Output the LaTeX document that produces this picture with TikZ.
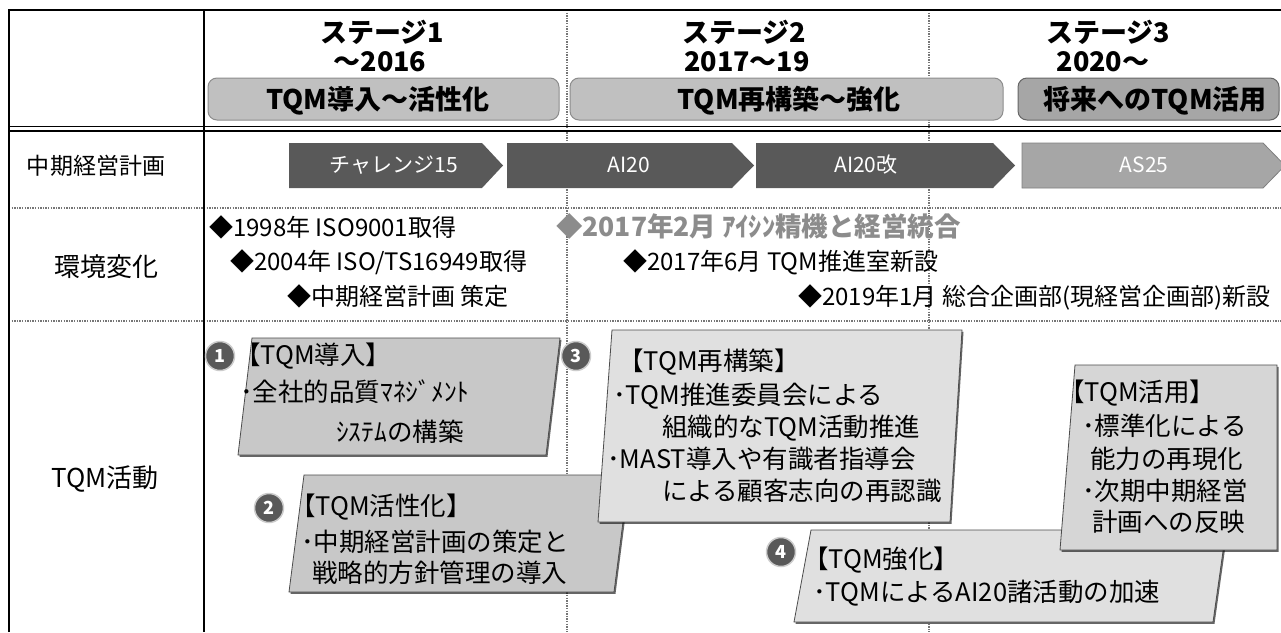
\documentclass[tikz,border=0pt]{standalone}
\usepackage{fontspec}
\setmainfont{Noto Sans CJK JP}
\usetikzlibrary{shadows}
\definecolor{arrowdark}{HTML}{595959}
\definecolor{arrowlight}{HTML}{A6A6A6}
\definecolor{hdrlight}{HTML}{C0C0C0}
\definecolor{hdrdark}{HTML}{A6A6A6}
\definecolor{boxmid}{HTML}{C8C8C8}
\definecolor{boxlight}{HTML}{E0E0E0}
\definecolor{boxuse}{HTML}{D6D6D6}
\definecolor{dotgray}{HTML}{767676}
\definecolor{evgray}{HTML}{8C8C8C}
\newcommand{\fsz}[1]{\fontsize{#1}{#1}\selectfont}
\tikzset{
  txt/.style={inner sep=0pt, anchor=west, font={\fsz{25.5}}, text height=21pt, text depth=4pt},
  evt/.style={inner sep=0pt, anchor=west, font={\fsz{24}}, text height=20pt, text depth=4pt},
  lbl/.style={inner sep=0pt, anchor=center, font={\fsz{26}}, text height=22pt, text depth=4pt},
  stg/.style={inner sep=0pt, anchor=center, font={\fsz{27}\bfseries}, text height=23pt, text depth=4pt},
  arrtxt/.style={inner sep=0pt, anchor=center, font={\fsz{21}}, text=white, text height=18pt, text depth=3pt},
  num/.style={circle, fill=arrowdark, draw=black!20, line width=1.5pt, minimum size=29pt, inner sep=0pt, font={\fsz{18}\bfseries}, text=white},
  dotline/.style={draw=dotgray, line width=2.6pt, dash pattern=on 1.3pt off 1.3pt},
  frameline/.style={line width=2.5pt, draw=black},
  hdrbox/.style={rounded corners=9pt, line width=1pt},
  chev/.style={fill=arrowdark},
  pbox/.style={draw=black!70, line width=0.8pt, drop shadow={shadow xshift=1.5pt, shadow yshift=-1.8pt, fill=black, opacity=0.6}},
}
\begin{document}
\begin{tikzpicture}[x=1pt,y=-1pt]
\useasboundingbox (0,0) rectangle (1281,632);
\fill[white] (0,0) rectangle (1281,632);

% dotted grid lines
\draw[dotline] (9,208) -- (1281,208);
\draw[dotline] (9,321) -- (1281,321);
\draw[dotline] (567,10) -- (567,632);
\draw[dotline] (929,10) -- (929,632);

% frame
\draw[frameline] (9,632) -- (9,10) -- (1281,10);
\draw[frameline] (204,10) -- (204,632);
\draw[line width=1.8pt] (9,126.5) -- (1281,126.5);
\draw[line width=1.8pt] (9,131) -- (1281,131);

% stage headers
\node[stg] (s1a) at (382,33) {ステージ1};
\node[stg] (s1b) at (380,62) {～2016};
\node[stg] (s2a) at (744,33) {ステージ2};
\node[stg] (s2b) at (747,62) {2017～19};
\node[stg] (s3a) at (1108,33) {ステージ3};
\node[stg] (s3b) at (1103,62) {2020～};

\path[hdrbox, fill=hdrlight, draw=black!45] (208,78) rectangle (559,120);
\path[hdrbox, fill=hdrlight, draw=black!45] (570,78) rectangle (1003,120);
\path[hdrbox, fill=hdrdark, draw=black!60] (1018,78) rectangle (1279,120);
\node[stg] (h1) at (378,100) {TQM導入～活性化};
\node[stg] (h2) at (789,100) {TQM再構築～強化};
\node[stg] (h3) at (1155,100) {将来へのTQM活用};

% row labels
\node[lbl, font={\fsz{23}}] (r1) at (96,165) {中期経営計画};
\node[lbl] (r2) at (106,267) {環境変化};
\node[lbl] (r3) at (105,478) {TQM活動};

% plan arrows
\path[chev] (289,143) -- (482,143) -- (503,165.5) -- (482,188) -- (289,188) -- cycle;
\path[chev] (507,143) -- (732,143) -- (754,165.5) -- (732,188) -- (507,188) -- cycle;
\path[chev] (756,143) -- (993,143) -- (1015,165.5) -- (993,188) -- (756,188) -- cycle;
\path[fill=arrowlight, draw=black!50, line width=0.8pt] (1022,143) -- (1263,143) -- (1285,165.5) -- (1263,188) -- (1022,188) -- cycle;
\node[arrtxt] (a1) at (394,165) {チャレンジ15};
\node[arrtxt] (a2) at (629,165) {AI20};
\node[arrtxt] (a3) at (866,165) {AI20改};
\node[arrtxt] (a4) at (1144,165) {AS25};

% environment events
\node[evt] (e1) at (209,228) {◆1998年 ISO9001取得};
\node[evt] (e2) at (230,262) {◆2004年 ISO/TS16949取得};
\node[evt] (e3) at (287,297) {◆中期経営計画 策定};
\node[evt, font={\fsz{26.5}\bfseries}, text=evgray] (e4) at (556,228) {◆2017年2月 ｱｲｼﾝ精機と経営統合};
\node[evt] (e5) at (623,262) {◆2017年6月 TQM推進室新設};
\node[evt] (e6) at (798,297) {◆2019年1月 総合企画部(現経営企画部)新設};

% box 1
\path[pbox, fill=boxmid] (252,338) -- (560,338) -- (546,455) -- (238,455) -- cycle;
\node[num] (n1) at (220,356) {1};
\node[txt] (b1h) at (235,356) {【TQM導入】};
\node[txt] (b1a) at (240,393) {･全社的品質ﾏﾈｼﾞﾒﾝﾄ};
\node[txt] (b1b) at (336,433) {ｼｽﾃﾑの構築};

% box 2
\path[pbox, fill=boxmid] (304,475) -- (629,475) -- (614,592) -- (289,592) -- cycle;
\node[num] (n2) at (269,508) {2};
\node[txt] (b2h) at (290,507) {【TQM活性化】};
\node[txt] (b2a) at (301,543) {･中期経営計画の策定と};
\node[txt] (b2b) at (312,574) {戦略的方針管理の導入};

% box 3
\path[pbox, fill=boxlight] (612,330) -- (962,330) -- (950,522) -- (598,522) -- cycle;
\node[num] (n3) at (576,356) {3};
\node[txt] (b3h) at (618,362) {【TQM再構築】};
\node[txt] (b3a) at (613,396) {･TQM推進委員会による};
\node[txt] (b3b) at (662,428) {組織的なTQM活動推進};
\node[txt] (b3c) at (607,460) {･MAST導入や有識者指導会};
\node[txt] (b3d) at (662,492) {による顧客志向の再認識};

% box 4
\path[pbox, fill=boxlight] (811,530) -- (1226,530) -- (1213,622) -- (794,622) -- cycle;
\node[num] (n4) at (781,552) {4};
\node[txt] (b4h) at (803,560) {【TQM強化】};
\node[txt] (b4a) at (813,593) {･TQMによるAI20諸活動の加速};

% box 5
\path[pbox, fill=boxuse] (1075,365) -- (1277,365) -- (1277,550) -- (1060,550) -- cycle;
\node[txt] (b5h) at (1059,393) {【TQM活用】};
\node[txt] (b5a) at (1082,427) {･標準化による};
\node[txt] (b5b) at (1090,460) {能力の再現化};
\node[txt] (b5c) at (1082,492) {･次期中期経営};
\node[txt] (b5d) at (1092,523) {計画への反映};
\end{tikzpicture}
\end{document}
